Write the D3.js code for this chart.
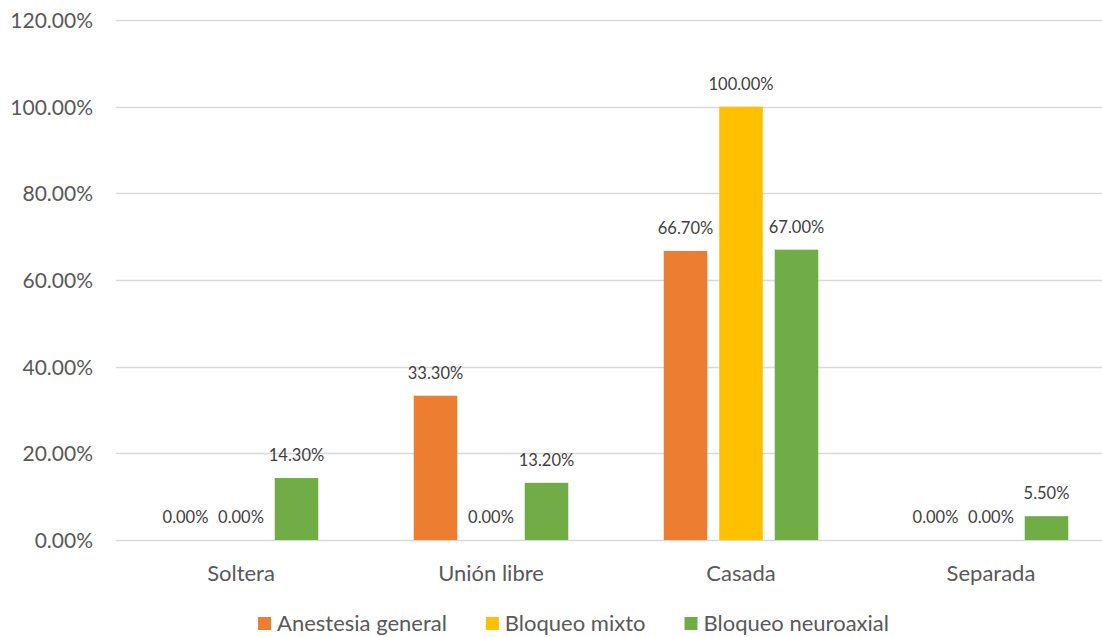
<!DOCTYPE html>
<html>
<head>
<meta charset="utf-8">
<script src="https://cdn.jsdelivr.net/npm/d3@7"></script>
<style>
  html, body { margin: 0; padding: 0; background: #fff; }
  svg { display: block; font-family: Lato, "Open Sans", sans-serif; }
</style>
</head>
<body>
<svg id="chart" width="1102" height="637"></svg>
<script>
// Estado civil por tipo de anestesia (porcentajes)
const categories = ["Soltera", "Unión libre", "Casada", "Separada"];
const seriesNames = ["Anestesia general", "Bloqueo mixto", "Bloqueo neuroaxial"];
const anestesiaGeneral = [0.0, 33.3, 66.7, 0.0];
const bloqueoMixto = [0.0, 0.0, 100.0, 0.0];
const bloqueoNeuroaxial = [14.3, 13.2, 67.0, 5.5];
const yTicks = [0, 20, 40, 60, 80, 100, 120];
const seriesColors = ["#ED7D31", "#FFC000", "#70AD47"];

const seriesValues = [anestesiaGeneral, bloqueoMixto, bloqueoNeuroaxial];
const fmt = v => v.toFixed(2) + "%";

const svg = d3.select("#chart");
const plot = { left: 116, right: 1116, top: 20, bottom: 540 };

const y = d3.scaleLinear().domain([0, 120]).range([plot.bottom, plot.top]);
const x0 = d3.scaleBand().domain(categories).range([plot.left, plot.right]).padding(0);
const x1 = d3.scaleBand().domain(seriesNames).range([0, x0.bandwidth()])
  .paddingInner(0.216).paddingOuter(0.86);

// gridlines
svg.append("g").selectAll("line").data(yTicks).join("line")
  .attr("x1", plot.left).attr("x2", plot.right)
  .attr("y1", d => Math.round(y(d)) + 0.5).attr("y2", d => Math.round(y(d)) + 0.5)
  .attr("stroke", "#D9D9D9").attr("stroke-width", 1.3);

// y axis labels
const yAxis = d3.axisLeft(y).tickValues(yTicks).tickFormat(fmt).tickSize(0).tickPadding(0);
const ya = svg.append("g").attr("transform", `translate(93,0)`).call(yAxis);
ya.select(".domain").remove();
ya.selectAll("text").attr("fill", "#595959").attr("font-size", 21)
  .attr("font-family", "Lato, sans-serif").attr("dy", "0.36em");

// bars
const groups = svg.append("g").selectAll("g").data(categories).join("g")
  .attr("transform", c => `translate(${x0(c)},0)`);

const cells = groups.selectAll("g").data((c, i) => seriesNames.map((s, k) => ({ s, k, v: seriesValues[k][i] })))
  .join("g");

cells.append("rect")
  .attr("x", d => x1(d.s))
  .attr("width", x1.bandwidth())
  .attr("y", d => y(d.v))
  .attr("height", d => y(0) - y(d.v))
  .attr("fill", d => seriesColors[d.k]);

cells.append("text")
  .attr("x", d => x1(d.s) + x1.bandwidth() / 2)
  .attr("y", d => y(d.v) - 17)
  .attr("text-anchor", "middle")
  .attr("fill", "#404040")
  .attr("font-size", 16.5)
  .text(d => fmt(d.v));

// category labels
const xAxis = d3.axisBottom(x0).tickSize(0).tickPadding(0);
const xa = svg.append("g").attr("transform", `translate(0,${plot.bottom})`).call(xAxis);
xa.select(".domain").remove();
xa.selectAll("text").attr("fill", "#595959").attr("font-size", 22)
  .attr("font-family", "Lato, sans-serif").attr("dy", 0).attr("y", 41);

// legend
const legend = svg.append("g");
const items = legend.selectAll("g").data(seriesNames).join("g");
items.append("rect").attr("width", 13).attr("height", 13).attr("y", 617)
  .attr("fill", (d, i) => seriesColors[i]);
items.append("text").attr("x", 19).attr("y", 631)
  .attr("fill", "#595959").attr("font-size", 22).text(d => d);
let cx = 0;
const offsets = [];
items.each(function () {
  offsets.push(cx);
  const w = d3.select(this).select("text").node().getComputedTextLength();
  cx += 19 + w + 39;
});
const total = cx - 39;
const startX = 573.5 - total / 2;
items.attr("transform", (d, i) => `translate(${startX + offsets[i]},0)`);
</script>
</body>
</html>
